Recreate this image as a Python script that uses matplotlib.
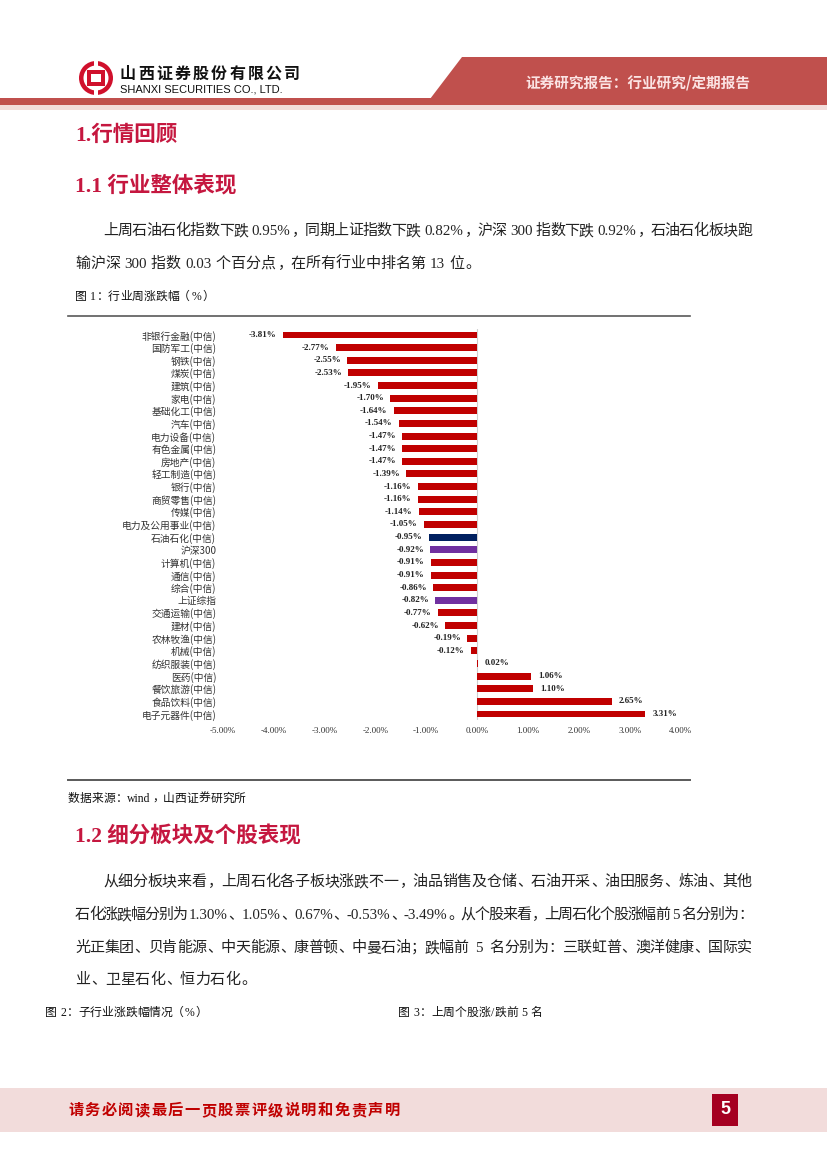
import re

import matplotlib
matplotlib.use('Agg')
import matplotlib.pyplot as plt
import numpy as np
from matplotlib.patches import Polygon, Rectangle, Circle

# chart data: weekly change by industry (%)
industries = ['非银行金融(中信)', '国防军工(中信)', '钢铁(中信)', '煤炭(中信)', '建筑(中信)',
              '家电(中信)', '基础化工(中信)', '汽车(中信)', '电力设备(中信)', '有色金属(中信)',
              '房地产(中信)', '轻工制造(中信)', '银行(中信)', '商贸零售(中信)', '传媒(中信)',
              '电力及公用事业(中信)', '石油石化(中信)', '沪深300', '计算机(中信)', '通信(中信)',
              '综合(中信)', '上证综指', '交通运输(中信)', '建材(中信)', '农林牧渔(中信)',
              '机械(中信)', '纺织服装(中信)', '医药(中信)', '餐饮旅游(中信)', '食品饮料(中信)',
              '电子元器件(中信)']
changes = [-3.81, -2.77, -2.55, -2.53, -1.95, -1.70, -1.64, -1.54, -1.47, -1.47,
           -1.47, -1.39, -1.16, -1.16, -1.14, -1.05, -0.95, -0.92, -0.91, -0.91,
           -0.86, -0.82, -0.77, -0.62, -0.19, -0.12, 0.02, 1.06, 1.10, 2.65, 3.31]
x_ticks = [-5, -4, -3, -2, -1, 0, 1, 2, 3, 4]
highlight = {'石油石化(中信)': '#002060', '沪深300': '#7030A0', '上证综指': '#7030A0'}

W, H = 827, 1169
CJK = 'Noto Sans CJK SC'
SERIF = ['Liberation Serif', CJK]
RED = '#C00000'
TITLE = '#C5173F'
plt.rcParams['font.family'] = [CJK, 'DejaVu Sans']

fig = plt.figure(figsize=(W / 100, H / 100), dpi=100)
page = fig.add_axes([0, 0, 1, 1])
page.set_xlim(0, W)
page.set_ylim(H, 0)
page.axis('off')
renderer = fig.canvas.get_renderer()

TOKEN = re.compile(r"[A-Za-z0-9.%\-]+| |.")


def ink_width(s, size, weight):
    t = page.text(0, 0, s, fontsize=size, family=SERIF, weight=weight)
    w = t.get_window_extent(renderer).width
    t.remove()
    return w


def draw_line(s, x0, base, size=10.8, color='#222222', x1=None, weight='normal'):
    # lays out a line token by token, spreading it to x1 if given
    tokens = TOKEN.findall(s)
    em = size * 100 / 72
    widths = []
    for tok in tokens:
        if tok == ' ':
            widths.append(0.25 * em)
        elif ord(tok[0]) > 0x2E80:
            widths.append(em)
        else:
            widths.append(ink_width(tok, size, weight) + 0.06 * em)
    gap = 0 if x1 is None else (x1 - x0 - sum(widths)) / (len(tokens) - 1)
    x = x0
    for tok, w in zip(tokens, widths):
        if tok != ' ':
            if tok in '，、。：；）':
                ha, xx = 'left', x + 0.08 * em
            elif tok == '（':
                ha, xx = 'right', x + w - 0.08 * em
            elif ord(tok[0]) < 0x2E80:
                ha, xx = 'left', x + 0.03 * em
            else:
                ha, xx = 'center', x + w / 2
            page.text(xx, base, tok, ha=ha, va='baseline', fontsize=size,
                      family=SERIF, color=color, weight=weight)
        x += w + gap


# ---- header ----
page.add_patch(Polygon([(430, 99), (462, 57), (W, 57), (W, 99)], closed=True,
                       color='#C0504D', lw=0))
page.add_patch(Rectangle((0, 98), W, 7, color='#C0504D', lw=0))
page.add_patch(Rectangle((0, 105), W, 5, color='#F2DCDB', lw=0))
page.text(525, 82, '证券研究报告：行业研究/定期报告', fontsize=10.5, weight='bold',
          color='#FBE3E3', va='center', ha='left')

page.add_patch(Circle((96, 78), 17, color='#D0102C', lw=0))
page.add_patch(Circle((96, 78), 12.5, color='white', lw=0))
page.add_patch(Rectangle((87, 70), 18, 16, color='#D0102C', lw=0))
page.add_patch(Rectangle((91, 74), 10, 8, color='white', lw=0))
page.add_patch(Rectangle((94, 58), 4, 8, color='white', lw=0))
page.add_patch(Rectangle((94, 90), 4, 8, color='white', lw=0))
draw_line('山西证券股份有限公司', 120, 79, size=11.5, color='#111111', x1=300, weight='bold')
page.text(120, 89.5, 'SHANXI SECURITIES CO., LTD.', fontsize=8, family='Liberation Sans',
          color='#111111', va='center', ha='left')

# ---- section 1 ----
page.text(75, 141, '1.行情回顾', fontsize=15.5, weight='bold', family=SERIF,
          color=TITLE, va='baseline')
page.text(75, 193, '1.1 行业整体表现', fontsize=15.5, weight='bold', family=SERIF,
          color=TITLE, va='baseline')
draw_line('上周石油石化指数下跌 0.95%，同期上证指数下跌 0.82%，沪深 300 指数下跌 0.92%，石油石化板块跑',
          103, 235, x1=752)
draw_line('输沪深 300 指数 0.03 个百分点，在所有行业中排名第 13 位。', 75, 268)
draw_line('图 1：行业周涨跌幅（%）', 75, 300, size=8.5, color='#111111')

page.plot([68, 690], [316, 316], color='#595959', lw=1.2)
page.plot([68, 690], [780, 780], color='#595959', lw=1.4)

# ---- chart ----
left, right, top, bottom = 222.5, 680.6, 328.7, 720.3
ax = fig.add_axes([left / W, 1 - bottom / H, (right - left) / W, (bottom - top) / H])
pos = np.arange(len(industries))
bar_colors = [highlight.get(name, RED) for name in industries]
ax.barh(pos, changes, height=0.55, color=bar_colors)
ax.set_xlim(-5, 4)
ax.set_ylim(len(industries) - 0.5, -0.5)
ax.axvline(0, color='#D0D0D0', lw=0.8, zorder=0)
ax.set_xticks(x_ticks)
ax.set_xticklabels([f'{v:.2f}%' for v in x_ticks], family=SERIF, fontsize=6.5, color='#333333')
ax.set_yticks(pos)
ax.set_yticklabels(industries, fontsize=7, color='#333333')
ax.tick_params(axis='x', length=0, pad=5)
ax.tick_params(axis='y', length=0, pad=4.5)
for s in ax.spines.values():
    s.set_visible(False)
ax.patch.set_alpha(0)
for i, v in enumerate(changes):
    off = -4.5 if v < 0 else 5
    ax.annotate(f'{v:.2f}%', (v, i), xytext=(off, 0), textcoords='offset points',
                ha='right' if v < 0 else 'left', va='center', fontsize=6.5,
                family=SERIF, weight='bold', color='#222222')

draw_line('数据来源：wind，山西证券研究所', 68, 802, size=8.5, color='#111111')

# ---- section 1.2 ----
page.text(75, 843, '1.2 细分板块及个股表现', fontsize=15.5, weight='bold', family=SERIF,
          color=TITLE, va='baseline')
draw_line('从细分板块来看，上周石化各子板块涨跌不一，油品销售及仓储、石油开采、油田服务、炼油、其他',
          103, 886, x1=752)
draw_line('石化涨跌幅分别为 1.30%、1.05%、0.67%、-0.53%、-3.49%。从个股来看，上周石化个股涨幅前 5 名分别为：',
          75, 919, x1=752)
draw_line('光正集团、贝肯能源、中天能源、康普顿、中曼石油；跌幅前  5  名分别为：三联虹普、澳洋健康、国际实',
          75, 952, x1=752)
draw_line('业、卫星石化、恒力石化。', 75, 984)
draw_line('图 2：子行业涨跌幅情况（%）', 45, 1016, size=8.5, color='#111111')
draw_line('图 3：上周个股涨/跌前 5 名', 398, 1016, size=8.5, color='#111111')

# ---- footer ----
page.add_patch(Rectangle((0, 1088), W, 44, color='#F2DCDB', lw=0))
draw_line('请务必阅读最后一页股票评级说明和免责声明', 68, 1115, size=11, color='#C00000',
          x1=400, weight='bold')
page.add_patch(Rectangle((712, 1094), 26, 32, color='#A50021', lw=0))
page.text(725, 1110, '5', fontsize=13, color='white', weight='bold',
          family='Liberation Sans', ha='center', va='center')

fig.savefig('out.png', dpi=100)
